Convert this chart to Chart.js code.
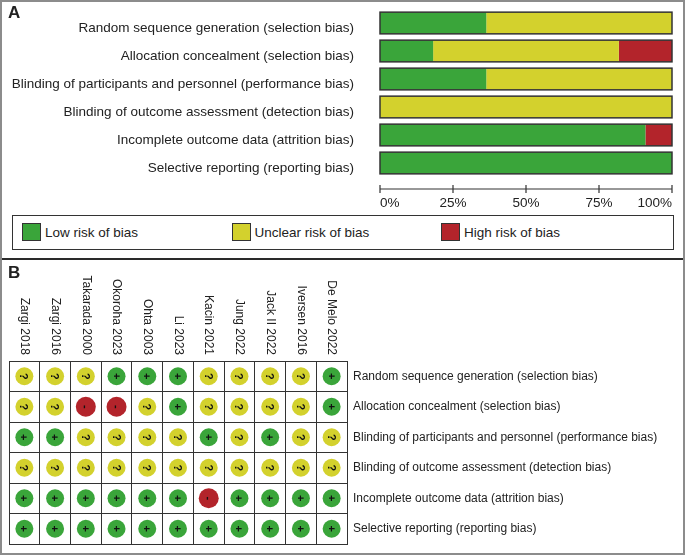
<!DOCTYPE html>
<html>
<head>
<meta charset="utf-8">
<script src="https://cdn.jsdelivr.net/npm/chart.js@4.4.1/dist/chart.umd.min.js"></script>
<style>
  body { margin: 0; background: #fff; font-family: "Liberation Sans", Arial, sans-serif; color: #222; }
  #fig { position: relative; width: 685px; height: 555px; overflow: hidden; background: #fff; }
  #frame { position: absolute; left: 0; top: 0; width: 685px; height: 555px; box-sizing: border-box; border: 2px solid #8c8c8c; pointer-events: none; }
  #divider { position: absolute; left: 0; top: 258px; width: 685px; height: 2px; background: #2a2a2a; }
  .panel { position: absolute; left: 0; width: 685px; }
  .tag { position: absolute; left: 8px; font-weight: bold; font-size: 17px; }
  #legend { position: absolute; left: 12px; top: 215px; width: 662px; height: 35px; box-sizing: border-box; border: 1.5px solid #333; }
  .item { position: absolute; top: 7px; display: flex; align-items: center; font-size: 13.5px; }
  .sw { width: 19px; height: 18px; box-sizing: border-box; border: 1.5px solid #333; margin-right: 4px; }
</style>
</head>
<body>
<div id="fig">
  <div class="panel" style="top:0;height:212px"><canvas id="summary"></canvas></div>
  <div class="tag" style="top:3px">A</div>
  <div id="legend"></div>
  <div id="divider"></div>
  <div class="tag" style="top:263px">B</div>
  <div class="panel" style="top:260px;height:295px"><canvas id="graph"></canvas></div>
  <div id="frame"></div>
</div>
<script>
// bias domains (rows)
const domains = [
  'Random sequence generation (selection bias)',
  'Allocation concealment (selection bias)',
  'Blinding of participants and personnel (performance bias)',
  'Blinding of outcome assessment (detection bias)',
  'Incomplete outcome data (attrition bias)',
  'Selective reporting (reporting bias)'
];

// studies (columns of panel B)
const studies = ['Zargi 2018', 'Zargi 2016', 'Takarada 2000', 'Okoroha 2023', 'Ohta 2003', 'Li 2023',
  'Kacin 2021', 'Jung 2022', 'Jack II 2022', 'Iversen 2016', 'De Melo 2022'];

// panel A, percent of studies
const lowRisk     = [36.4, 18.2, 36.4, 0, 90.9, 100];
const unclearRisk = [63.6, 63.6, 63.6, 100, 0, 0];
const highRisk    = [0, 18.2, 0, 0, 9.1, 0];

const xTicks = [0, 25, 50, 75, 100];

// panel B judgements, one per study
const randomSeq    = ['?', '?', '?', '+', '+', '+', '?', '?', '?', '?', '+'];
const allocation   = ['?', '?', '-', '-', '?', '+', '?', '?', '?', '?', '+'];
const blindPart    = ['+', '+', '?', '?', '?', '?', '+', '?', '+', '?', '?'];
const blindOutcome = ['?', '?', '?', '?', '?', '?', '?', '?', '?', '?', '?'];
const incomplete   = ['+', '+', '+', '+', '+', '+', '-', '+', '+', '+', '+'];
const selective    = ['+', '+', '+', '+', '+', '+', '+', '+', '+', '+', '+'];
const judgements = [randomSeq, allocation, blindPart, blindOutcome, incomplete, selective];

const levels = ['Low risk of bias', 'Unclear risk of bias', 'High risk of bias'];
const symbols = ['+', '?', '-'];
const colors = { low: '#3aa53a', unclear: '#d3d12d', high: '#b3242b', ink: '#222', line: '#333' };
const levelColors = [colors.low, colors.unclear, colors.high];

const FONT = '"Liberation Sans", Arial, sans-serif';

// html legend
const legend = document.getElementById('legend');
levels.forEach((name, i) => {
  const el = document.createElement('div');
  el.className = 'item';
  el.style.left = (9 + i * 209.5) + 'px';
  el.innerHTML = '<div class="sw" style="background:' + levelColors[i] + '"></div>' + name;
  legend.appendChild(el);
});

// chart.js adds tick padding to the layout, we place things ourselves
function noPad(s) {
  s.paddingTop = 0; s.paddingBottom = 0; s.paddingLeft = 0; s.paddingRight = 0;
}

// outline around each row and the separate axis line
const barFrame = {
  id: 'barFrame',
  afterDatasetsDraw(chart) {
    const ctx = chart.ctx, x = chart.scales.x;
    const x0 = x.getPixelForValue(0), x1 = x.getPixelForValue(100);
    ctx.save();
    ctx.strokeStyle = colors.line;
    ctx.lineWidth = 1.5;
    chart.getDatasetMeta(0).data.forEach(bar => {
      ctx.strokeRect(x0, bar.y - bar.height / 2, x1 - x0, bar.height);
    });
    const y = chart.chartArea.bottom + 12;
    ctx.lineWidth = 1.2;
    ctx.beginPath();
    ctx.moveTo(x0, y);
    ctx.lineTo(x1, y);
    x.ticks.forEach(t => {
      const px = x.getPixelForValue(t.value);
      ctx.moveTo(px, y - 4);
      ctx.lineTo(px, y + 4);
    });
    ctx.stroke();
    ctx.restore();
  }
};

new Chart(document.getElementById('summary'), {
  type: 'bar',
  data: {
    labels: domains,
    datasets: [
      { label: levels[0], data: lowRisk, backgroundColor: colors.low },
      { label: levels[1], data: unclearRisk, backgroundColor: colors.unclear },
      { label: levels[2], data: highRisk, backgroundColor: colors.high }
    ]
  },
  options: {
    indexAxis: 'y',
    responsive: true,
    maintainAspectRatio: false,
    animation: false,
    layout: { autoPadding: false, padding: { top: 9, right: 13, left: 0, bottom: 0 } },
    datasets: { bar: { barPercentage: 0.775, categoryPercentage: 1, borderWidth: 0 } },
    plugins: { legend: { display: false }, tooltip: { enabled: false } },
    scales: {
      x: {
        stacked: true, min: 0, max: 100,
        afterBuildTicks: s => { s.ticks = xTicks.map(v => ({ value: v })); },
        afterFit: s => { s.height = 35; noPad(s); },
        grid: { display: false, drawTicks: false },
        border: { display: false },
        ticks: { align: 'inner', padding: 18, color: colors.ink, font: { family: FONT, size: 13.5 }, callback: v => v + '%' }
      },
      y: {
        stacked: true,
        afterFit: s => { s.width = 380; noPad(s); },
        grid: { display: false, drawTicks: false },
        border: { display: false },
        ticks: { padding: 26, labelOffset: 5, color: colors.ink, font: { family: FONT, size: 13.5 } }
      }
    }
  },
  plugins: [barFrame]
});

// panel B points, one dataset per judgement level
const pointSets = symbols.map(() => []);
judgements.forEach((row, r) => {
  row.forEach((j, c) => {
    pointSets[symbols.indexOf(j)].push({ x: studies[c], y: domains[r] });
  });
});

const marks = {
  id: 'marks',
  afterDatasetsDraw(chart) {
    const ctx = chart.ctx;
    chart.data.datasets.forEach((ds, di) => {
      chart.getDatasetMeta(di).data.forEach(pt => {
        ctx.save();
        ctx.translate(pt.x, pt.y);
        ctx.rotate(Math.PI / 2);
        ctx.fillStyle = '#111';
        ctx.font = 'bold 11px ' + FONT;
        ctx.textAlign = 'center';
        ctx.textBaseline = 'middle';
        ctx.fillText(ds.symbol, 0, 1);
        ctx.restore();
      });
    });
  },
  afterDraw(chart) {
    const ctx = chart.ctx, x = chart.scales.x;
    ctx.save();
    ctx.fillStyle = colors.ink;
    ctx.font = '12px ' + FONT;
    ctx.textAlign = 'right';
    ctx.textBaseline = 'middle';
    studies.forEach((s, i) => {
      ctx.save();
      ctx.translate(x.getPixelForValue(i), chart.chartArea.top - 6);
      ctx.rotate(Math.PI / 2);
      ctx.fillText(s, 0, 0);
      ctx.restore();
    });
    ctx.restore();
  }
};

new Chart(document.getElementById('graph'), {
  type: 'scatter',
  data: {
    datasets: symbols.map((sym, i) => ({
      label: levels[i],
      symbol: sym,
      data: pointSets[i],
      backgroundColor: levelColors[i],
      borderWidth: 0,
      pointRadius: sym === '-' ? 10 : 9
    }))
  },
  options: {
    responsive: true,
    maintainAspectRatio: false,
    animation: false,
    layout: { autoPadding: false, padding: { top: 101, left: 9, right: 0, bottom: 11 } },
    plugins: { legend: { display: false }, tooltip: { enabled: false } },
    scales: {
      x: {
        type: 'category', labels: studies, position: 'top', offset: true,
        afterFit: s => { s.height = 0; noPad(s); },
        grid: { offset: true, color: colors.line, lineWidth: 1, drawTicks: false },
        border: { color: colors.line, width: 1 },
        ticks: { display: false }
      },
      y: {
        type: 'category', labels: domains, position: 'right', offset: true,
        afterFit: s => { s.width = 338; noPad(s); },
        grid: { offset: true, color: colors.line, lineWidth: 1, drawTicks: false },
        border: { color: colors.line, width: 1 },
        ticks: { padding: 6, color: colors.ink, font: { family: FONT, size: 12 } }
      }
    }
  },
  plugins: [marks]
});
</script>
</body>
</html>
